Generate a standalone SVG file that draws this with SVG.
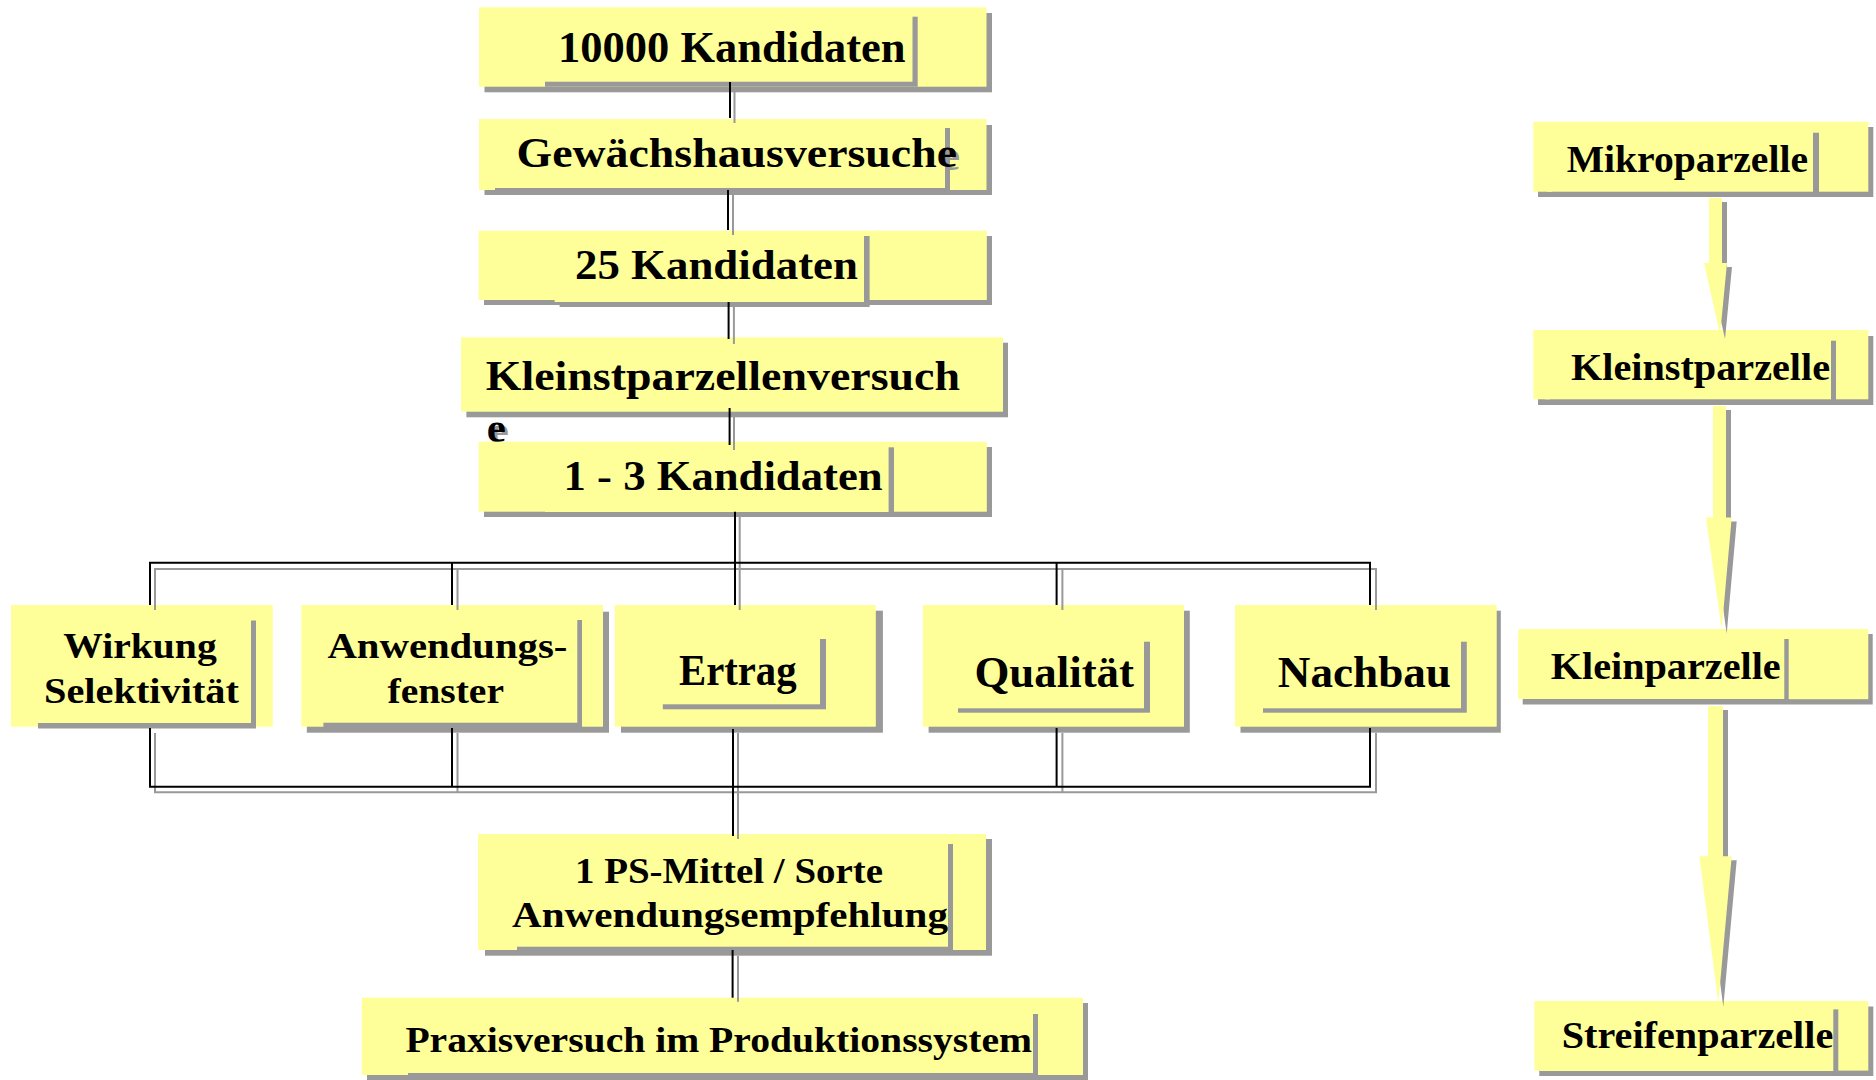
<svg xmlns="http://www.w3.org/2000/svg" width="1876" height="1080" viewBox="0 0 1876 1080">
<style>
.bx{fill:#FFFF99}
.sh{fill:#999999}
.t{font-family:"Liberation Serif","Times New Roman",serif;font-weight:bold;fill:#000}
.ts{font-family:"Liberation Serif","Times New Roman",serif;font-weight:bold;fill:#999999}
.cl{stroke:#000;stroke-width:2;fill:none}
.cs{stroke:#999999;stroke-width:2;fill:none}
.ar{fill:#FFFF99}
</style>
<rect width="1876" height="1080" fill="#fff"/>
<g id="n1">
<rect class="sh" x="484.5" y="13" width="507.5" height="79.3"/>
<rect class="bx" x="479" y="7.3" width="507.5" height="79.4"/>
<rect class="sh" x="545" y="16.7" width="372.7" height="70"/>
<rect class="bx" x="540" y="11.7" width="372.5" height="70"/>
<text class="t" x="558" y="61.7" font-size="45" textLength="347.6" lengthAdjust="spacingAndGlyphs">10000 Kandidaten</text>
</g>
<g id="n2">
<rect class="sh" x="484.5" y="125" width="507.5" height="70"/>
<rect class="bx" x="479" y="119" width="507.5" height="71"/>
<text class="ts" x="519.5" y="169.7" font-size="43" textLength="440.5" lengthAdjust="spacingAndGlyphs">Gewächshausversuche</text>
<rect class="sh" x="495" y="128" width="455" height="65"/>
<rect class="bx" x="490" y="123" width="455" height="65"/>
<text class="t" x="516.5" y="166.7" font-size="43" textLength="440.5" lengthAdjust="spacingAndGlyphs">Gewächshausversuche</text>
</g>
<g id="n3">
<rect class="sh" x="484" y="236" width="508" height="69"/>
<rect class="bx" x="478.6" y="230.7" width="508.2" height="69.3"/>
<rect class="sh" x="559.6" y="236" width="310" height="71"/>
<rect class="bx" x="554.6" y="231" width="309.4" height="71"/>
<text class="t" x="575" y="279.3" font-size="43" textLength="283" lengthAdjust="spacingAndGlyphs">25 Kandidaten</text>
</g>
<g id="n4">
<rect class="sh" x="466.4" y="342.7" width="541.6" height="74.6"/>
<rect class="bx" x="461" y="337.3" width="542" height="74.4"/>
<text class="t" x="485.7" y="390" font-size="43" textLength="474.3" lengthAdjust="spacingAndGlyphs">Kleinstparzellenversuch</text>
<text class="ts" x="489.8" y="444.7" font-size="43">e</text>
<text class="t" x="486.8" y="441.7" font-size="43">e</text>
</g>
<g id="n5">
<rect class="sh" x="484" y="447" width="508" height="70"/>
<rect class="bx" x="478.6" y="441.7" width="508.2" height="70"/>
<rect class="sh" x="550" y="447.3" width="344" height="69.7"/>
<rect class="bx" x="545" y="442.3" width="343.6" height="69.7"/>
<text class="t" x="563.6" y="490" font-size="43" textLength="319" lengthAdjust="spacingAndGlyphs">1 - 3 Kandidaten</text>
</g>
<g id="n6">
<rect class="bx" x="11" y="605" width="261.8" height="121.7"/>
<rect class="sh" x="38" y="620.5" width="218" height="108"/>
<rect class="bx" x="32.6" y="615" width="218.4" height="108"/>
<text class="t" x="63.3" y="658.3" font-size="36" textLength="153.4" lengthAdjust="spacingAndGlyphs">Wirkung</text>
<text class="t" x="44" y="703.3" font-size="36" textLength="195" lengthAdjust="spacingAndGlyphs">Selektivität</text>
</g>
<g id="n7">
<rect class="sh" x="306.8" y="611.7" width="302.2" height="121"/>
<rect class="bx" x="301.3" y="605" width="301.7" height="121.7"/>
<rect class="sh" x="323.4" y="620" width="258.6" height="108"/>
<rect class="bx" x="318.4" y="615" width="258.9" height="107.7"/>
<text class="t" x="327.4" y="658.3" font-size="36" textLength="240" lengthAdjust="spacingAndGlyphs">Anwendungs-</text>
<text class="t" x="387.5" y="703.3" font-size="36" textLength="116.5" lengthAdjust="spacingAndGlyphs">fenster</text>
</g>
<g id="n8">
<rect class="sh" x="621" y="610.7" width="261.9" height="122"/>
<rect class="bx" x="614.7" y="605" width="261.1" height="121.7"/>
<rect class="sh" x="662.8" y="639" width="163.2" height="70.3"/>
<rect class="bx" x="657.8" y="634" width="162.2" height="70.3"/>
<text class="t" x="679" y="685" font-size="44" textLength="117.6" lengthAdjust="spacingAndGlyphs">Ertrag</text>
</g>
<g id="n9">
<rect class="sh" x="928.6" y="610.7" width="261.2" height="122"/>
<rect class="bx" x="922.8" y="605" width="261.2" height="121.7"/>
<rect class="sh" x="958" y="641.7" width="192" height="71"/>
<rect class="bx" x="953" y="636.7" width="191" height="71.6"/>
<text class="t" x="974.4" y="686.7" font-size="44" textLength="159.6" lengthAdjust="spacingAndGlyphs">Qualität</text>
</g>
<g id="n10">
<rect class="sh" x="1240.5" y="610.7" width="260.3" height="122"/>
<rect class="bx" x="1235" y="605" width="261.7" height="121.7"/>
<rect class="sh" x="1263" y="641.7" width="203.8" height="71"/>
<rect class="bx" x="1258" y="636.7" width="203" height="71.6"/>
<text class="t" x="1277.8" y="686.7" font-size="44" textLength="173.2" lengthAdjust="spacingAndGlyphs">Nachbau</text>
</g>
<g id="n11">
<rect class="sh" x="485" y="839" width="507" height="116.7"/>
<rect class="bx" x="478" y="834" width="508" height="116"/>
<rect class="sh" x="517" y="844" width="436" height="107.7"/>
<rect class="bx" x="512" y="839" width="436" height="107.7"/>
<text class="t" x="575" y="883.3" font-size="35" textLength="308" lengthAdjust="spacingAndGlyphs">1 PS-Mittel / Sorte</text>
<text class="t" x="512" y="926.7" font-size="35" textLength="436" lengthAdjust="spacingAndGlyphs">Anwendungsempfehlung</text>
</g>
<g id="n12">
<rect class="sh" x="367" y="1003" width="721" height="77"/>
<rect class="bx" x="361.8" y="997.7" width="721.2" height="77.3"/>
<rect class="sh" x="408" y="1014" width="630" height="64"/>
<rect class="bx" x="403" y="1009" width="630" height="64"/>
<text class="t" x="405.4" y="1051.7" font-size="36" textLength="626.6" lengthAdjust="spacingAndGlyphs">Praxisversuch im Produktionssystem</text>
</g>
<g id="n13">
<rect class="sh" x="1538" y="127" width="335.3" height="70"/>
<rect class="bx" x="1533.3" y="121.7" width="335" height="70"/>
<rect class="sh" x="1552" y="132.7" width="267" height="64.3"/>
<rect class="bx" x="1547" y="127.7" width="266" height="64"/>
<text class="t" x="1566.7" y="171.7" font-size="37" textLength="241.3" lengthAdjust="spacingAndGlyphs">Mikroparzelle</text>
</g>
<g id="n14">
<rect class="sh" x="1538" y="336" width="335.3" height="69"/>
<rect class="bx" x="1533.3" y="330" width="335" height="69.3"/>
<rect class="sh" x="1550" y="340.7" width="286" height="64.3"/>
<rect class="bx" x="1545" y="335.7" width="286" height="63.6"/>
<text class="t" x="1571" y="380" font-size="37" textLength="259" lengthAdjust="spacingAndGlyphs">Kleinstparzelle</text>
</g>
<g id="n15">
<rect class="sh" x="1522.7" y="634" width="350" height="70.5"/>
<rect class="bx" x="1518.3" y="629" width="350" height="70.2"/>
<rect class="sh" x="1523.3" y="639" width="265.4" height="65"/>
<rect class="bx" x="1518.3" y="634" width="266" height="65"/>
<text class="t" x="1550.7" y="678.8" font-size="37" textLength="230" lengthAdjust="spacingAndGlyphs">Kleinparzelle</text>
</g>
<g id="n16">
<rect class="sh" x="1539.3" y="1006.5" width="334" height="69.5"/>
<rect class="bx" x="1534.3" y="1001" width="334" height="69.6"/>
<rect class="sh" x="1545" y="1009.4" width="293.3" height="66.6"/>
<rect class="bx" x="1540" y="1004.4" width="293.3" height="66.6"/>
<text class="t" x="1561.7" y="1048" font-size="37" textLength="271.6" lengthAdjust="spacingAndGlyphs">Streifenparzelle</text>
</g>
<g id="connectors">
<path class="cs" d="M734.5 92V123M733 195V235M733.9 305V344M734 412V450"/>
<path class="cl" d="M730 82V118M728 190V230M728.6 302V339M729.6 408V445"/>
<path class="cs" d="M155 610V569H1376V610M457.5 569V610M739.7 517V610M1062.4 569V610"/>
<path class="cl" d="M150 605V562.7H1370V605M452 562.7V605M735 511.7V605M1056.6 562.7V605"/>
<path class="cs" d="M155 733V792.3H1376V733M457.5 733V792.3M1062.4 733V792.3M738 733V839M738 955.7V1001.7"/>
<path class="cl" d="M150 728V786.7H1370V728M452 728V786.7M1056.6 728V786.7M733 729V836M732.6 950V997.7"/>
<g transform="translate(5,4)" class="sh">
<polygon points="1709,198 1722,198 1722,263 1727,263 1720,335 1704,263 1709,263"/>
<polygon points="1713,406 1726,406 1726,517.6 1731.7,517.6 1721.7,629.8 1706,517.6 1713,517.6"/>
<polygon points="1708,706 1723,706 1723,856.3 1731.7,856.3 1718.3,1003 1699.3,856.3 1708,856.3"/>
</g>
<polygon class="ar" points="1709,198 1722,198 1722,263 1727,263 1720,335 1704,263 1709,263"/>
<polygon class="ar" points="1713,406 1726,406 1726,517.6 1731.7,517.6 1721.7,629.8 1706,517.6 1713,517.6"/>
<polygon class="ar" points="1708,706 1723,706 1723,856.3 1731.7,856.3 1718.3,1003 1699.3,856.3 1708,856.3"/>
</g>
</svg>
